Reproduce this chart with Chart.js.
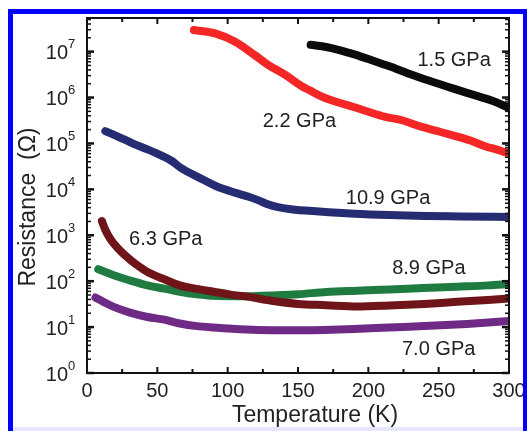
<!DOCTYPE html>
<html>
<head>
<meta charset="utf-8">
<script src="https://cdn.jsdelivr.net/npm/chart.js@4/dist/chart.umd.min.js"></script>
<style>
    html, body { margin: 0; padding: 0; background: #fff; }
    #grafico { display: block; }
</style>
</head>
<body>
<canvas id="grafico" width="527" height="431"></canvas>
<script>
// datos (T en K, R en ohm)
const temp15 = [159, 170, 180, 190, 200, 210, 220, 230, 240, 250, 260, 270, 280, 290, 300];
const res15 = [1.41e7, 1.26e7, 1.07e7, 8.7e6, 6.9e6, 5.4e6, 4.2e6, 3.2e6, 2.5e6, 2.0e6, 1.58e6, 1.26e6, 1.02e6, 8.1e5, 5.9e5];

const temp22 = [76, 91, 105, 119, 129, 141, 153, 158, 167, 177, 189, 200, 212, 224, 236, 248, 260, 272, 284, 291, 300];
const res22 = [2.95e7, 2.5e7, 1.66e7, 8.5e6, 5.1e6, 3.1e6, 1.74e6, 1.45e6, 1.05e6, 8.1e5, 6.3e5, 4.9e5, 3.8e5, 3.2e5, 2.4e5, 1.9e5, 1.5e5, 1.17e5, 8.5e4, 7.4e4, 6.0e4];

const temp109 = [13, 22, 32, 43, 53, 60, 67, 80, 92, 105, 115, 122, 128, 135, 145, 165, 190, 215, 240, 265, 300];
const res109 = [1.86e5, 1.41e5, 1.02e5, 7.4e4, 5.4e4, 4.2e4, 2.9e4, 1.78e4, 1.17e4, 8.5e3, 6.9e3, 5.75e3, 4.8e3, 4.15e3, 3.7e3, 3.3e3, 2.95e3, 2.75e3, 2.63e3, 2.57e3, 2.5e3];

const temp63 = [10.6, 13, 16, 19, 25, 31, 37, 43, 55, 66, 78, 90, 102, 114, 130, 150, 170, 192, 215, 240, 263, 285, 300];
const res63 = [2040, 1320, 890, 660, 417, 288, 209, 158, 110, 81, 68, 59, 51, 46, 38, 32, 30, 28, 29.5, 32, 35.5, 39, 42];

const temp89 = [8, 19, 30, 43, 55, 66, 78, 90, 113, 130, 150, 170, 192, 215, 239, 263, 285, 300];
const res89 = [182, 135, 105, 81, 69, 59, 52, 48, 47, 49, 52, 58, 62, 66, 71, 76, 81, 87];

const temp70 = [6, 12, 19, 30, 43, 55, 66, 78, 90, 113, 150, 190, 215, 240, 270, 300];
const res70 = [44, 35, 27.5, 21, 16.6, 14.5, 12, 10.5, 9.8, 8.9, 8.5, 9.1, 9.8, 10.5, 11.7, 13.5];

const etiquetas = ['1.5 GPa', '2.2 GPa', '10.9 GPa', '6.3 GPa', '8.9 GPa', '7.0 GPa'];
const etiquetasT = [261, 151, 214, 56, 243, 250];
const etiquetasR = [6.6e6, 3.2e5, 6.5e3, 8.7e2, 2.0e2, 3.5];

const ticksX = [0, 50, 100, 150, 200, 250, 300];
const decadasY = [0, 1, 2, 3, 4, 5, 6, 7];

const fuente = '"Liberation Sans", Arial, sans-serif';

function serie(temps, valores, color) {
    return {
        data: temps.map((t, i) => ({ x: t, y: valores[i] })),
        borderColor: color,
        borderWidth: 8,
        borderCapStyle: 'round',
        borderJoinStyle: 'round',
        pointRadius: 0,
        fill: false,
        cubicInterpolationMode: 'monotone'
    };
}

function linea(ctx, x1, y1, x2, y2) {
    ctx.beginPath();
    ctx.moveTo(x1, y1);
    ctx.lineTo(x2, y2);
    ctx.stroke();
}

const marcoPlugin = {
    id: 'marco',
    afterDatasetsDraw(chart) {
        const { ctx, chartArea: a, scales: { x, y } } = chart;
        ctx.save();
        ctx.strokeStyle = '#111';
        ctx.lineWidth = 2;
        ctx.strokeRect(a.left, a.top, a.right - a.left, a.bottom - a.top);

        // marcas del eje x (hacia dentro, arriba y abajo)
        for (let t = 0; t <= 300; t += 25) {
            const px = x.getPixelForValue(t);
            const largo = t % 50 === 0 ? 6 : 4;
            linea(ctx, px, a.bottom, px, a.bottom - largo);
            linea(ctx, px, a.top, px, a.top + largo);
        }

        // marcas del eje y logaritmico
        decadasY.forEach(function(d) {
            for (let m = 1; m <= 9; m++) {
                const v = m * Math.pow(10, d);
                if (v > y.max) break;
                const py = y.getPixelForValue(v);
                const largo = m === 1 ? 7 : 4;
                ctx.lineWidth = m === 1 ? 2.5 : 1.5;
                linea(ctx, a.left, py, a.left + largo, py);
                linea(ctx, a.right, py, a.right - largo, py);
            }
        });

        // etiquetas 10^n
        ctx.fillStyle = '#222';
        decadasY.forEach(function(d) {
            const py = y.getPixelForValue(Math.pow(10, d));
            ctx.font = '20px ' + fuente;
            ctx.textAlign = 'right';
            ctx.textBaseline = 'middle';
            ctx.fillText('10', a.left - 19, py + 2);
            ctx.font = '13px ' + fuente;
            ctx.textAlign = 'left';
            ctx.fillText(String(d), a.left - 19, py - 7);
        });

        // nombres de las curvas
        ctx.font = '20px ' + fuente;
        ctx.textAlign = 'center';
        ctx.textBaseline = 'middle';
        etiquetas.forEach(function(texto, i) {
            ctx.fillText(texto, x.getPixelForValue(etiquetasT[i]), y.getPixelForValue(etiquetasR[i]) + 1);
        });

        // titulos de los ejes
        ctx.font = '23px ' + fuente;
        ctx.fillText('Temperature (K)', 315, 416);
        ctx.save();
        ctx.translate(29, 207);
        ctx.rotate(-Math.PI / 2);
        ctx.fillText('Resistance  (\u03A9)', 0, 0);
        ctx.restore();
        ctx.restore();
    },
    afterDraw(chart) {
        const ctx = chart.ctx;
        ctx.save();
        ctx.fillStyle = '#0000ff';
        ctx.fillRect(8, 9, 5, 422);
        ctx.fillRect(8, 9, 519, 5);
        ctx.fillRect(523, 9, 4, 422);
        ctx.fillStyle = '#e6e6ff';
        ctx.fillRect(13, 427, 510, 4);
        ctx.restore();
    }
};

const ctx = document.getElementById('grafico').getContext('2d');
new Chart(ctx, {
    type: 'line',
    data: {
        datasets: [
            serie(temp15, res15, '#0b0b0b'),
            serie(temp22, res22, '#f42626'),
            serie(temp109, res109, '#262c72'),
            serie(temp63, res63, '#6f1418'),
            serie(temp89, res89, '#1f7b40'),
            serie(temp70, res70, '#6e2a84')
        ]
    },
    options: {
        responsive: false,
        animation: false,
        layout: { padding: { left: 0, right: 18, top: 18, bottom: 0 } },
        plugins: {
            legend: { display: false },
            tooltip: { enabled: false }
        },
        scales: {
            x: {
                type: 'linear',
                min: 0,
                max: 300,
                afterBuildTicks: function(scale) {
                    scale.ticks = ticksX.map(v => ({ value: v }));
                },
                afterFit: function(scale) {
                    scale.height = 58;
                    scale.paddingLeft = 0;
                    scale.paddingRight = 0;
                },
                ticks: {
                    font: { size: 20, family: fuente },
                    color: '#222',
                    padding: 6,
                    maxRotation: 0,
                    autoSkip: false
                },
                grid: { display: false, drawTicks: false },
                border: { display: false }
            },
            y: {
                type: 'logarithmic',
                min: 1,
                max: 5.4e7,
                afterFit: function(scale) {
                    scale.width = 87;
                    scale.paddingTop = 0;
                    scale.paddingBottom = 0;
                },
                ticks: { display: false },
                grid: { display: false, drawTicks: false },
                border: { display: false }
            }
        }
    },
    plugins: [marcoPlugin]
});
</script>
</body>
</html>
